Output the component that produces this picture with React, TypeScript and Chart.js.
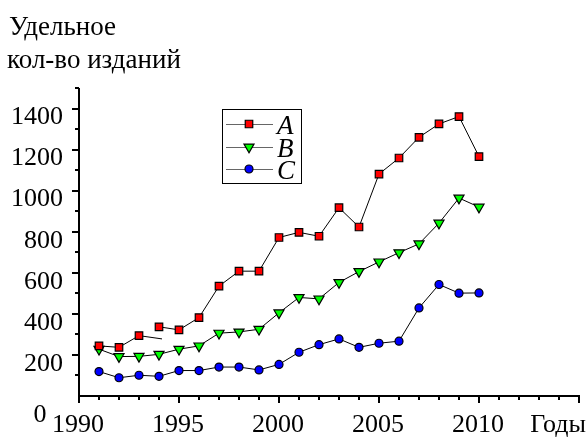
import React, { useEffect, useRef } from "react";
import { Chart, registerables } from "chart.js";

Chart.register(...registerables);

const years = [1991, 1992, 1993, 1994, 1995, 1996, 1997, 1998, 1999, 2000, 2001, 2002, 2003, 2004, 2005, 2006, 2007, 2008, 2009, 2010];
const seriesA = [244, 237, 294, 337, 322, 382, 535, 608, 608, 772, 797, 778, 917, 823, 1081, 1159, 1260, 1325, 1361, 1166];
const seriesB = [228, 192, 193, 203, 228, 244, 306, 312, 325, 405, 480, 473, 553, 606, 653, 698, 741, 842, 964, 920];
const seriesC = [119, 89, 101, 96, 124, 124, 141, 141, 127, 154, 213, 250, 278, 237, 257, 267, 429, 543, 501, 502];
// stray segment drawn after the 1993 point of series A in the original
const strayA = [{ x: 1993, y: 294 }, { x: 1994.15, y: 278 }];
const seriesNames = ["A", "B", "C"];
const xTickLabels = [1990, 1995, 2000, 2005, 2010];
const yTickLabels = [200, 400, 600, 800, 1000, 1200, 1400];
const yTitle = ["Удельное", "кол-во изданий"];
const xTitle = "Годы";

const FONT = "Liberation Serif";
const TICK_SIZE = 26;

const toPts = (vals: number[]) => vals.map((v, i) => ({ x: years[i], y: v }));

function drawMarker(ctx: CanvasRenderingContext2D, style: string, rotation: number, r: number, x: number, y: number) {
  ctx.beginPath();
  if (style === "rect") {
    const s = Math.SQRT1_2 * r;
    ctx.rect(x - s, y - s, 2 * s, 2 * s);
  } else if (style === "triangle") {
    const rad = (rotation * Math.PI) / 180;
    for (let k = 0; k < 3; k++) {
      const a = rad + (k * 2 * Math.PI) / 3;
      const px = x + Math.sin(a) * r;
      const py = y - Math.cos(a) * r;
      if (k === 0) ctx.moveTo(px, py); else ctx.lineTo(px, py);
    }
    ctx.closePath();
  } else {
    ctx.arc(x, y, r, 0, Math.PI * 2);
  }
  ctx.fill();
  ctx.stroke();
}

export default function App() {
  const ref = useRef<HTMLCanvasElement>(null);
  useEffect(() => {
    const canvas = ref.current!;
    const decoPlugin = {
      id: "deco",
      afterDraw(ch: any) {
        const ctx = ch.ctx as CanvasRenderingContext2D;
        const xs = ch.scales.x;
        const ys = ch.scales.y;
        const x0 = xs.getPixelForValue(1990);
        const y0 = ys.getPixelForValue(0);
        ctx.save();
        ctx.strokeStyle = "#000";
        ctx.lineWidth = 2;
        ctx.lineCap = "butt";
        ctx.beginPath();
        ctx.moveTo(x0, ys.getPixelForValue(1500));
        ctx.lineTo(x0, y0);
        ctx.lineTo(xs.getPixelForValue(2015) + 1, y0);
        ctx.stroke();
        for (let yr = 1990; yr <= 2015; yr++) {
          const px = Math.round(xs.getPixelForValue(yr));
          const len = yr % 5 === 0 ? 7 : 4;
          ctx.beginPath();
          ctx.moveTo(px, y0);
          ctx.lineTo(px, y0 + len);
          ctx.stroke();
        }
        for (let v = 100; v <= 1500; v += 100) {
          const py = Math.round(ys.getPixelForValue(v));
          const len = v % 200 === 0 ? 7 : 4;
          ctx.beginPath();
          ctx.moveTo(x0, py);
          ctx.lineTo(x0 - len, py);
          ctx.stroke();
        }
        ctx.fillStyle = "#000";
        ctx.font = `${TICK_SIZE}px "${FONT}"`;
        ctx.textBaseline = "alphabetic";
        ctx.textAlign = "center";
        ctx.fillText("0", x0 - 39, y0 + 26);
        ctx.textAlign = "right";
        ctx.fillText(xTitle, 586, 432);
        ctx.textAlign = "left";
        ctx.font = `27px "${FONT}"`;
        ctx.fillText(yTitle[0], 9, 35);
        ctx.fillText(yTitle[1], 7, 68);
        // legend
        const lx = 222, ly = 109, lw = 79, lh = 74;
        ctx.lineWidth = 1;
        ctx.strokeStyle = "#000";
        ctx.strokeRect(lx + 0.5, ly + 0.5, lw, lh);
        const rows = [124, 147, 169];
        seriesNames.forEach((name, i) => {
          const ds = ch.data.datasets[i];
          const cy = rows[i];
          ctx.strokeStyle = "#666";
          ctx.lineWidth = 1;
          ctx.beginPath();
          ctx.moveTo(226, cy + 0.5);
          ctx.lineTo(273, cy + 0.5);
          ctx.stroke();
          ctx.fillStyle = ds.pointBackgroundColor;
          ctx.strokeStyle = "#000";
          ctx.lineWidth = 1.2;
          drawMarker(ctx, ds.pointStyle, ds.pointRotation || 0, ds.pointRadius, 249, cy);
          ctx.fillStyle = "#000";
          ctx.font = `italic 27px "${FONT}"`;
          ctx.textAlign = "left";
          ctx.fillText(name, 277, cy + 10);
        });
        ctx.restore();
      },
    };
    const chart = new Chart(canvas, {
      type: "line",
      data: {
        datasets: [
          {
            label: seriesNames[0],
            data: toPts(seriesA),
            borderColor: "#000",
            borderWidth: 1,
            pointStyle: "rect",
            pointRadius: 5.3,
            pointBackgroundColor: "#ff0000",
            pointBorderColor: "#000",
            pointBorderWidth: 1.2,
            segment: {
              borderColor: (c: any) => (c.p0DataIndex === 2 ? "rgba(0,0,0,0)" : "#000"),
            },
          },
          {
            label: seriesNames[1],
            data: toPts(seriesB),
            borderColor: "#000",
            borderWidth: 1,
            pointStyle: "triangle",
            pointRotation: 180,
            pointRadius: 5.8,
            pointBackgroundColor: "#00ff00",
            pointBorderColor: "#000",
            pointBorderWidth: 1.2,
          },
          {
            label: seriesNames[2],
            data: toPts(seriesC),
            borderColor: "#000",
            borderWidth: 1,
            pointStyle: "circle",
            pointRadius: 4,
            pointBackgroundColor: "#0000ff",
            pointBorderColor: "#000",
            pointBorderWidth: 1.2,
          },
          {
            label: "stray",
            data: strayA,
            borderColor: "#000",
            borderWidth: 1,
            pointRadius: 0,
          },
        ],
      },
      options: {
        responsive: false,
        animation: false,
        devicePixelRatio: 1,
        layout: { padding: { top: 88, right: 8, left: 0, bottom: 0 } },
        plugins: { legend: { display: false }, tooltip: { enabled: false } },
        scales: {
          x: {
            type: "linear",
            min: 1990,
            max: 2015,
            afterFit: (s: any) => { s.height = 42; },
            afterBuildTicks: (s: any) => { s.ticks = xTickLabels.map((v) => ({ value: v })); },
            border: { display: false },
            grid: { display: false, drawTicks: false },
            ticks: {
              autoSkip: false,
              maxRotation: 0,
              padding: 14,
              labelOffset: -1,
              color: "#000",
              font: { family: FONT, size: TICK_SIZE },
              callback: (v: any) => String(v),
            },
          },
          y: {
            min: 0,
            max: 1500,
            afterFit: (s: any) => { s.width = 79; },
            afterBuildTicks: (s: any) => { s.ticks = yTickLabels.map((v) => ({ value: v })); },
            border: { display: false },
            grid: { display: false, drawTicks: false },
            ticks: {
              autoSkip: false,
              padding: 16,
              labelOffset: 9,
              color: "#000",
              font: { family: FONT, size: TICK_SIZE },
              callback: (v: any) => String(v),
            },
          },
        },
      },
      plugins: [decoPlugin],
    });
    return () => chart.destroy();
  }, []);
  return (
    <div style={{ position: "fixed", left: 0, top: 0, width: 587, height: 438, background: "#fff" }}>
      <canvas ref={ref} width={587} height={438} />
    </div>
  );
}
